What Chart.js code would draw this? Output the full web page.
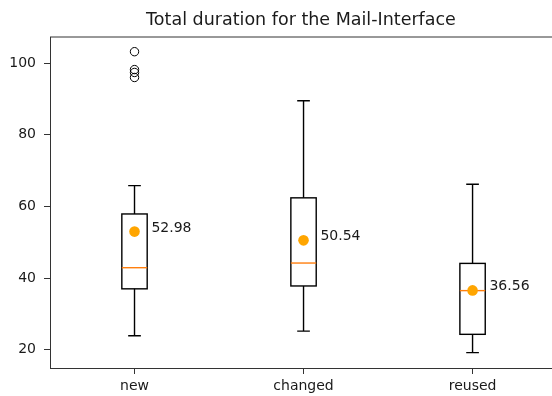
<!DOCTYPE html>
<html>
<head>
<meta charset="utf-8">
<script src="https://cdn.jsdelivr.net/npm/chart.js@4"></script>
<style>
    body { margin: 0; overflow: hidden; background: #fff; }
</style>
</head>
<body>
<canvas id="chart" width="552" height="396"></canvas>
<script>
// Box plot data
const categories = ['new', 'changed', 'reused'];
const whiskerLow = [23.9, 25.2, 19.2];
const q1 = [37.0, 37.8, 24.3];
const median = [42.9, 44.2, 36.5];
const q3 = [57.9, 62.4, 44.1];
const whiskerHigh = [65.8, 89.5, 66.2];
const means = [52.98, 50.54, 36.56];
const outliers = [[96.0, 97.4, 98.2, 103.2], [], []];
const yTicks = [20, 40, 60, 80, 100];

const BOX_W = 0.15;
const lineColor = '#000';
const textColor = '#1a1a1a';

Chart.defaults.font.family = "'DejaVu Sans', sans-serif";
Chart.defaults.color = textColor;

// Draw boxes, whiskers, caps and medians through the scales
const boxPlugin = {
    id: 'boxes',
    beforeDatasetsDraw(chart) {
        const { ctx, scales: { x, y }, chartArea } = chart;
        ctx.save();
        ctx.lineWidth = 1.4;
        categories.forEach((cat, i) => {
            const pos = i + 1;
            const xl = x.getPixelForValue(pos - BOX_W / 2);
            const xr = x.getPixelForValue(pos + BOX_W / 2);
            const xc = x.getPixelForValue(pos);
            const capL = x.getPixelForValue(pos - BOX_W / 4);
            const capR = x.getPixelForValue(pos + BOX_W / 4);
            const yQ1 = y.getPixelForValue(q1[i]);
            const yQ3 = y.getPixelForValue(q3[i]);
            const yLo = y.getPixelForValue(whiskerLow[i]);
            const yHi = y.getPixelForValue(whiskerHigh[i]);
            const yMed = y.getPixelForValue(median[i]);

            ctx.strokeStyle = lineColor;
            ctx.strokeRect(xl, yQ3, xr - xl, yQ1 - yQ3);

            ctx.beginPath();
            ctx.moveTo(xc, yQ3); ctx.lineTo(xc, yHi);
            ctx.moveTo(xc, yQ1); ctx.lineTo(xc, yLo);
            ctx.moveTo(capL, yHi); ctx.lineTo(capR, yHi);
            ctx.moveTo(capL, yLo); ctx.lineTo(capR, yLo);
            ctx.stroke();

            ctx.strokeStyle = '#ff7f0e';
            ctx.beginPath();
            ctx.moveTo(xl, yMed); ctx.lineTo(xr, yMed);
            ctx.stroke();
        });
        // top spine
        ctx.strokeStyle = '#333';
        ctx.lineWidth = 1;
        ctx.beginPath();
        ctx.moveTo(chartArea.left, chartArea.top);
        ctx.lineTo(chartArea.right, chartArea.top);
        ctx.stroke();
        ctx.restore();
    },
    afterDatasetsDraw(chart) {
        const { ctx, scales: { x, y } } = chart;
        ctx.save();
        ctx.font = "14px 'DejaVu Sans'";
        ctx.fillStyle = textColor;
        ctx.textAlign = 'left';
        ctx.textBaseline = 'alphabetic';
        means.forEach((m, i) => {
            ctx.fillText(m.toFixed(2), x.getPixelForValue(i + 1.1), y.getPixelForValue(m));
        });
        ctx.restore();
    }
};

const meanPoints = means.map((m, i) => ({ x: i + 1, y: m }));
const outlierPoints = [];
outliers.forEach((list, i) => list.forEach(v => outlierPoints.push({ x: i + 1, y: v })));

new Chart(document.getElementById('chart'), {
    type: 'scatter',
    data: {
        datasets: [{
            label: 'outliers',
            data: outlierPoints,
            pointRadius: 4.2,
            pointBackgroundColor: 'rgba(0,0,0,0)',
            pointBorderColor: lineColor,
            pointBorderWidth: 1
        }, {
            label: 'mean',
            data: meanPoints,
            pointRadius: 5.3,
            pointBackgroundColor: '#FFA500',
            pointBorderWidth: 0
        }]
    },
    options: {
        responsive: false,
        animation: false,
        layout: { padding: 0, autoPadding: false },
        plugins: {
            legend: { display: false },
            tooltip: { enabled: false },
            title: {
                display: true,
                text: 'Total duration for the Mail-Interface',
                fullSize: false,
                color: textColor,
                font: { size: 17.5, weight: 'normal' },
                padding: { top: 10, bottom: 6 }
            }
        },
        scales: {
            x: {
                type: 'linear',
                min: 0.5,
                max: 3.47,
                afterBuildTicks: scale => { scale.ticks = categories.map((c, i) => ({ value: i + 1 })); },
                afterFit: scale => { scale.height = 28; },
                ticks: {
                    callback: value => categories[value - 1],
                    font: { size: 14 },
                    color: textColor,
                    padding: 4,
                    maxRotation: 0
                },
                grid: { drawOnChartArea: false, drawTicks: true, tickLength: 6, color: '#333' },
                border: { display: true, color: '#333', width: 1 }
            },
            y: {
                min: 14.9,
                max: 107.3,
                afterBuildTicks: scale => { scale.ticks = yTicks.map(v => ({ value: v })); },
                afterFit: scale => { scale.width = 50; },
                ticks: {
                    font: { size: 14 },
                    color: textColor,
                    padding: 8
                },
                grid: { drawOnChartArea: false, drawTicks: true, tickLength: 6, color: '#333' },
                border: { display: true, color: '#333', width: 1 }
            }
        }
    },
    plugins: [boxPlugin]
});
</script>
</body>
</html>
